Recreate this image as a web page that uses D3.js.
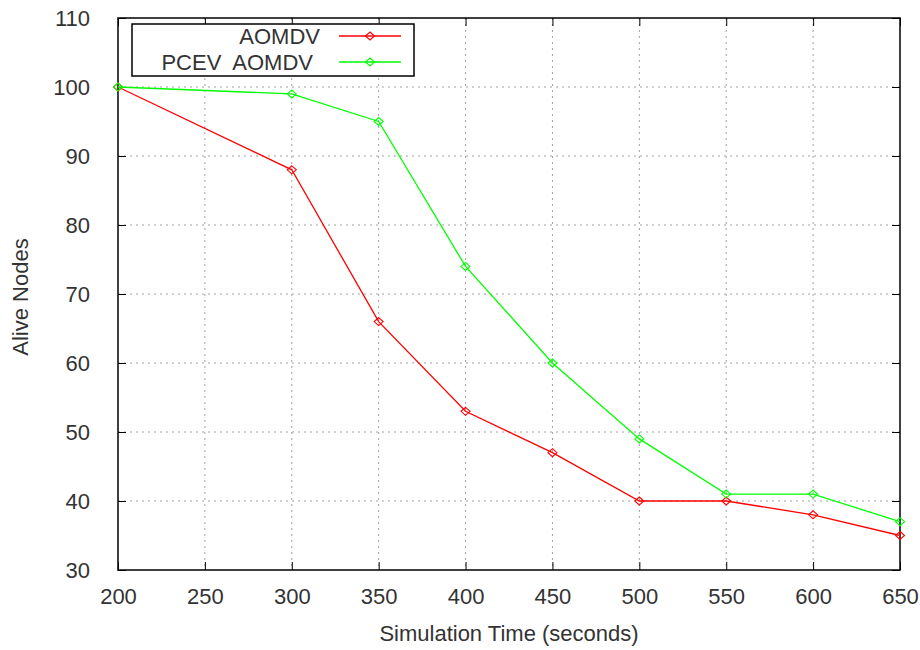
<!DOCTYPE html>
<html><head><meta charset="utf-8">
<script src="https://cdn.jsdelivr.net/npm/d3@7/dist/d3.min.js"></script>
<style>body{margin:0;background:#fff;} text{font-family:"Liberation Sans",Arial,sans-serif;white-space:pre;}</style>
</head><body><svg id="c" width="920" height="650"></svg>
<script>
const times = [200,300,350,400,450,500,550,600,650];
const aomdv = [100,88,66,53,47,40,40,38,35];
const pcevAomdv = [100,99,95,74,60,49,41,41,37];
const seriesNames = ["AOMDV","PCEV  AOMDV"];
const seriesColors = ["#ff0000","#00ff00"];
const xTicks = [200,250,300,350,400,450,500,550,600,650];
const yTicks = [30,40,50,60,70,80,90,100,110];

const svg = d3.select("#c");
const L=118,R=900,T=18,B=570;
const x = d3.scaleLinear().domain([200,650]).range([L,R]);
const y = d3.scaleLinear().domain([30,110]).range([B,T]);
const fs = 22, tc = "#333";

// grid
const g = svg.append("g");
g.selectAll(".gx").data(xTicks.slice(1,-1)).join("line")
 .attr("x1",d=>x(d)).attr("x2",d=>x(d)).attr("y1",T).attr("y2",B)
 .attr("stroke","#a0a0a0").attr("stroke-dasharray","2,4");
g.selectAll(".gy").data(yTicks.slice(1,-1)).join("line")
 .attr("y1",d=>y(d)).attr("y2",d=>y(d)).attr("x1",L).attr("x2",R)
 .attr("stroke","#a0a0a0").attr("stroke-dasharray","2,4");

// axes with inward ticks
const ax = (axis, tr) => svg.append("g").attr("transform",tr).call(axis)
  .call(s=>{s.select(".domain").remove(); s.selectAll("text").attr("font-size",fs).attr("fill",tc).attr("font-family","Liberation Sans, Arial, sans-serif");});
ax(d3.axisBottom(x).tickValues(xTicks).tickSizeInner(-8).tickSizeOuter(0).tickPadding(18).tickFormat(d3.format("d")), `translate(0,${B})`);
ax(d3.axisTop(x).tickValues(xTicks).tickSizeInner(-8).tickSizeOuter(0).tickFormat(""), `translate(0,${T})`);
ax(d3.axisLeft(y).tickValues(yTicks).tickSizeInner(-8).tickSizeOuter(0).tickPadding(28).tickFormat(d3.format("d")), `translate(${L},0)`);
ax(d3.axisRight(y).tickValues(yTicks).tickSizeInner(-8).tickSizeOuter(0).tickFormat(""), `translate(${R},0)`);
svg.selectAll(".tick line").attr("stroke","#000");
svg.append("rect").attr("x",L).attr("y",T).attr("width",R-L).attr("height",B-T)
 .attr("fill","none").attr("stroke","#000").attr("stroke-width",1.5);

// axis titles
svg.append("text").attr("x",(L+R)/2).attr("y",641).attr("text-anchor","middle")
 .attr("font-size",fs).attr("fill",tc).text("Simulation Time (seconds)");
svg.append("text").attr("transform","translate(20,297) rotate(-90)").attr("text-anchor","middle").attr("dy","0.35em")
 .attr("font-size",fs).attr("fill",tc).text("Alive Nodes");

// series
const diamond = "M0,-4L4.5,0L0,4L-4.5,0Z";
[aomdv,pcevAomdv].forEach((vals,i)=>{
  const pts = times.map((t,j)=>[t,vals[j]]);
  svg.append("path").datum(pts).attr("fill","none").attr("stroke",seriesColors[i]).attr("stroke-width",1.3)
   .attr("d",d3.line().x(d=>x(d[0])).y(d=>y(d[1])));
  svg.selectAll(".m"+i).data(pts).join("path").attr("d",diamond)
   .attr("transform",d=>`translate(${x(d[0])},${y(d[1])})`)
   .attr("fill","none").attr("stroke",seriesColors[i]).attr("stroke-width",1.1);
});

// legend
svg.append("rect").attr("x",132).attr("y",24).attr("width",282).attr("height",52)
 .attr("fill","#fff").attr("stroke","#000").attr("stroke-width",1.5);
const legRight = [320,313];
seriesNames.forEach((n,i)=>{
  const yy = 36 + i*26;
  svg.append("text").attr("x",legRight[i]).attr("y",yy).attr("dy","0.36em").attr("text-anchor","end")
   .attr("font-size",fs).attr("fill",tc).text(n);
  svg.append("line").attr("x1",339).attr("x2",401).attr("y1",yy).attr("y2",yy)
   .attr("stroke",seriesColors[i]).attr("stroke-width",1.3);
  svg.append("path").attr("d",diamond).attr("transform",`translate(370,${yy})`)
   .attr("fill","none").attr("stroke",seriesColors[i]).attr("stroke-width",1.1);
});
</script></body></html>
